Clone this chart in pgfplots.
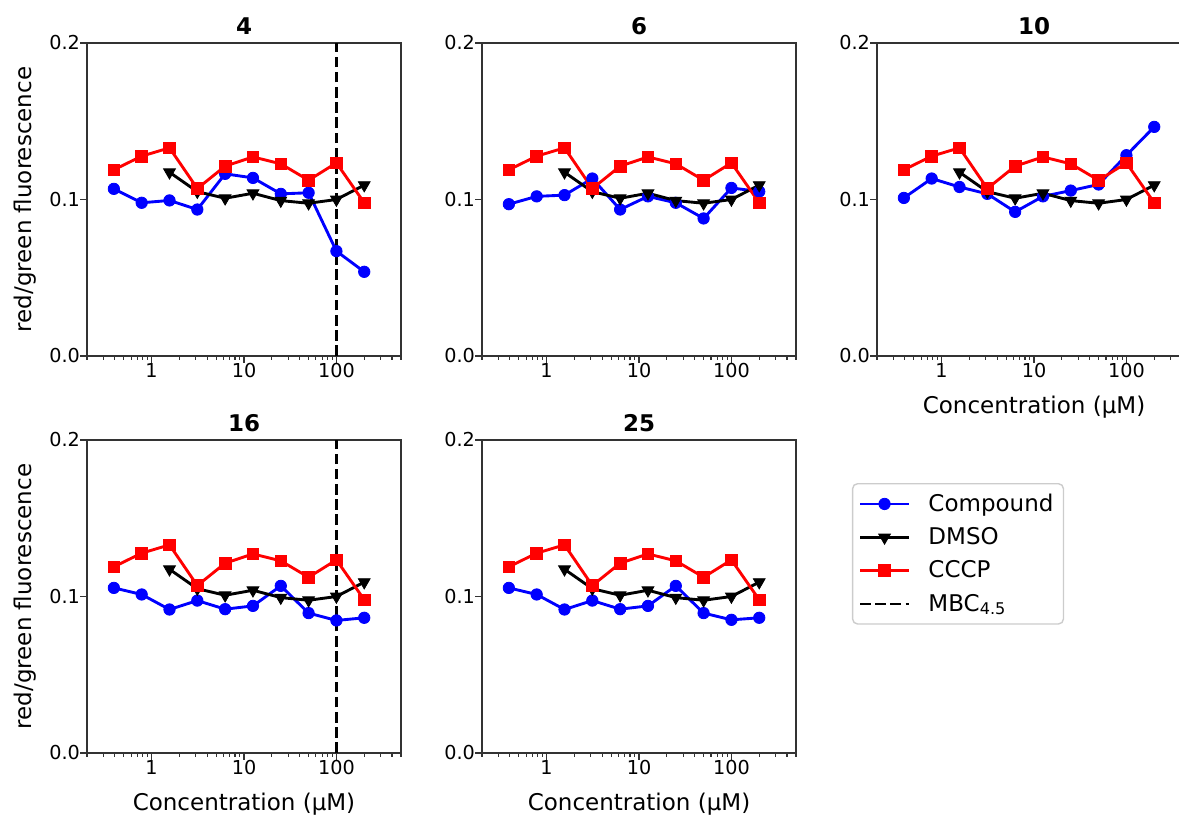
\documentclass[border=0pt]{standalone}
\usepackage{fontspec}
\setmainfont{DejaVu Sans}
\usepackage{pgfplots}
\usepackage{pgfplotstable}
\pgfplotsset{compat=1.18}

% compound data per panel + CCCP control (same in all panels)
\pgfplotstableread{
x        c4     c6     c10    c16    c25    cccp
0.390625 0.1068 0.0970 0.1010 0.1055 0.1055 0.1190
0.78125  0.0979 0.1020 0.1134 0.1013 0.1013 0.1277
1.5625   0.0994 0.1028 0.1080 0.0917 0.0917 0.1330
3.125    0.0936 0.1134 0.1036 0.0974 0.0974 0.1070
6.25     0.1164 0.0936 0.0921 0.0919 0.0919 0.1213
12.5     0.1138 0.1020 0.1020 0.0940 0.0940 0.1272
25       0.1036 0.0979 0.1057 0.1068 0.1068 0.1228
50       0.1043 0.0879 0.1096 0.0894 0.0894 0.1123
100      0.0670 0.1074 0.1283 0.0847 0.0851 0.1234
200      0.0538 0.1051 0.1464 0.0864 0.0864 0.0979
}\data

% DMSO control
\pgfplotstableread{
x      dmso
1.5625 0.1174
3.125  0.1050
6.25   0.1008
12.5   0.1040
25     0.0993
50     0.0976
100    0.1000
200    0.1092
}\dmso

\pgfplotsset{
  cmp/.style={blue, line width=1.44pt, mark=*, mark size=2.85pt, mark options={line width=0.4pt}},
  dms/.style={black, line width=1.44pt, mark=triangle*, mark size=3.4pt, mark options={rotate=180, line width=0.4pt}},
  ccp/.style={red, line width=1.44pt, mark=square*, mark size=2.9pt, mark options={line width=0.4pt}},
  mbc/.style={black, line width=1.44pt, dash pattern=on 5.3pt off 2.3pt},
  every axis/.append style={
    scale only axis, width=157pt, height=156.5pt,
    xmin=0.2, xmax=500, ymin=0, ymax=0.2,
    xtick={1,10,100}, xticklabels={1,10,100},
    minor xtick={0.2,0.3,0.4,0.5,0.6,0.7,0.8,0.9,2,3,4,5,6,7,8,9,20,30,40,50,60,70,80,90,200,300,400,500},
    ytick={0,0.1,0.2}, yticklabels={0.0,0.1,0.2},
    tick align=outside, xtick pos=left, ytick pos=left,
    major tick length=3.36pt, minor tick length=1.92pt,
    tick style={black!80, line width=0.77pt},
    minor tick style={line width=0.58pt},
    axis line style={black!80, line width=0.77pt},
    tick label style={font=\fontsize{9.6}{11}\selectfont},
    xticklabel style={anchor=north, inner sep=0pt},
    yticklabel style={anchor=east, inner sep=0pt},
    label style={font=\fontsize{11.5}{13}\selectfont},
    xlabel style={at={(axis description cs:0.5,-0.165)}, anchor=center},
    ylabel style={at={(axis description cs:-0.1975,0.5)}, anchor=center},
    title style={font=\fontsize{11.5}{13}\selectfont\bfseries, at={(0.5,1)}, anchor=base, inner sep=0pt, yshift=-1.5pt},
    legend image code/.code={\draw[mark repeat=2,mark phase=2] plot coordinates {(0pt,0pt) (12.25pt,0pt) (24.5pt,0pt)};},
  },
}

\newcommand{\series}[1]{%
  \addplot[cmp] table[x=x, y=#1] {\data};
  \addplot[dms] table[x=x, y=dmso] {\dmso};
  \addplot[ccp] table[x=x, y=cccp] {\data};
}

\begin{document}
\begin{tikzpicture}
\clip (0,0) rectangle (589.5pt,408pt);
\begin{semilogxaxis}[at={(43.5pt,230pt)}, title={4}, ylabel={red/green fluorescence}]
  \series{c4}
  \addplot[mbc] coordinates {(100,0) (100,0.2)};
\end{semilogxaxis}
\begin{semilogxaxis}[at={(241pt,230pt)}, title={6}]
  \series{c6}
\end{semilogxaxis}
\begin{semilogxaxis}[at={(438.5pt,230pt)}, title={10}, xlabel={Concentration (μM)}]
  \series{c10}
\end{semilogxaxis}
\begin{semilogxaxis}[at={(43.5pt,31.5pt)}, title={16}, ylabel={red/green fluorescence}, xlabel={Concentration (μM)}]
  \series{c16}
  \addplot[mbc] coordinates {(100,0) (100,0.2)};
\end{semilogxaxis}
\begin{semilogxaxis}[at={(241pt,31.5pt)}, title={25}, xlabel={Concentration (μM)},
    legend style={at={(1.178,0.8626)}, anchor=north west, draw=black!20, line width=0.7pt,
      rounded corners=2.5pt, fill=white, font=\fontsize{11.5}{13}\selectfont,
      cells={anchor=west}, inner xsep=3pt, inner ysep=3pt, row sep=2.6pt,
      /tikz/every odd column/.append style={column sep=7pt}}]
  \series{c25}
  \addlegendentry{Compound}
  \addlegendentry{DMSO}
  \addlegendentry{CCCP}
  \addlegendimage{mbc}
  \addlegendentry{MBC\textsubscript{4.5}}
\end{semilogxaxis}
\end{tikzpicture}
\end{document}
